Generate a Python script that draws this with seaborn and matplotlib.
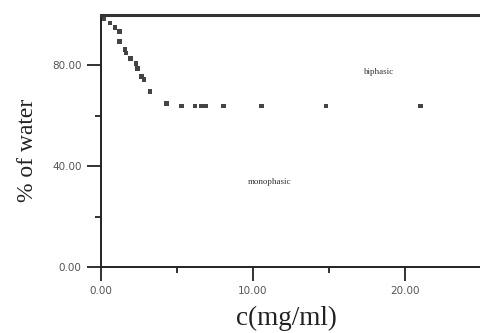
import matplotlib
matplotlib.use("Agg")
import matplotlib.pyplot as plt
import seaborn as sns
import pandas as pd

# data
conc = [0.15, 0.59, 0.92, 1.20, 1.20, 1.58, 1.64, 1.95, 2.30, 2.39, 2.68, 2.83,
        3.22, 4.32, 5.30, 6.18, 6.60, 6.90, 8.05, 10.57, 14.80, 21.00]
water = [98.5, 96.8, 95.2, 93.6, 89.6, 86.2, 84.9, 82.6, 80.7, 78.7, 75.6, 74.3,
         69.8, 64.8, 63.9, 63.9, 63.9, 63.9, 63.9, 63.9, 63.9, 63.9]
x_ticks = [0, 10, 20]
x_tick_labels = ["0.00", "10.00", "20.00"]
y_ticks = [0, 40, 80]
y_tick_labels = ["0.00", "40.00", "80.00"]
region_labels = ["biphasic", "monophasic"]
region_x = [18.3, 11.1]
region_y = [77.5, 33.8]

df = pd.DataFrame({"c": conc, "water": water})

sns.set_style("white")
plt.rcParams["font.family"] = ["DejaVu Sans"]

fig = plt.figure(figsize=(4.8, 3.33), dpi=100)
ax = fig.add_axes([101 / 480, 1 - 267 / 333, 1 - 101 / 480 + 0.002, (267 - 15) / 333])

sns.scatterplot(data=df, x="c", y="water", ax=ax, marker="s", s=12,
                color="#444444", edgecolor="none", linewidth=0)

ax.set_xlim(0, 25)
ax.set_ylim(0, 100)
ax.set_xticks(x_ticks)
ax.set_xticklabels(x_tick_labels)
ax.set_yticks(y_ticks)
ax.set_yticklabels(y_tick_labels)
ax.set_xticks([5, 15], minor=True)
ax.set_yticks([20, 60], minor=True)

ax.tick_params(axis="both", which="major", direction="out", length=10, width=1.3,
               color="#222222", labelsize=7.5, labelcolor="#555555", pad=4,
               bottom=True, left=True)
ax.tick_params(axis="both", which="minor", direction="out", length=4, width=1.3,
               color="#222222", bottom=True, left=True)

for side in ["left", "bottom"]:
    ax.spines[side].set_visible(True)
    ax.spines[side].set_linewidth(1.4)
    ax.spines[side].set_color("#222222")
ax.spines["top"].set_visible(True)
ax.spines["top"].set_linewidth(2.2)
ax.spines["top"].set_color("#333333")
ax.spines["right"].set_visible(False)

serif = ["Liberation Serif", "DejaVu Serif"]
ax.set_xlabel("c(mg/ml)", family=serif, fontsize=19.5, color="#222222")
ax.set_ylabel("% of water", family=serif, fontsize=17, color="#222222")
ax.xaxis.set_label_coords((286 - 101) / 379, -(318 - 267) / 252, transform=ax.transAxes)
ax.yaxis.set_label_coords(-(101 - 28) / 379, (267 - 150) / 252, transform=ax.transAxes)
ax.xaxis.label.set_va("center")
ax.yaxis.label.set_va("center")

for lab, xx, yy in zip(region_labels, region_x, region_y):
    ax.text(xx, yy, lab, family=serif, fontsize=6.5, color="#333333",
            ha="center", va="center")

fig.savefig("out.png", dpi=100)
